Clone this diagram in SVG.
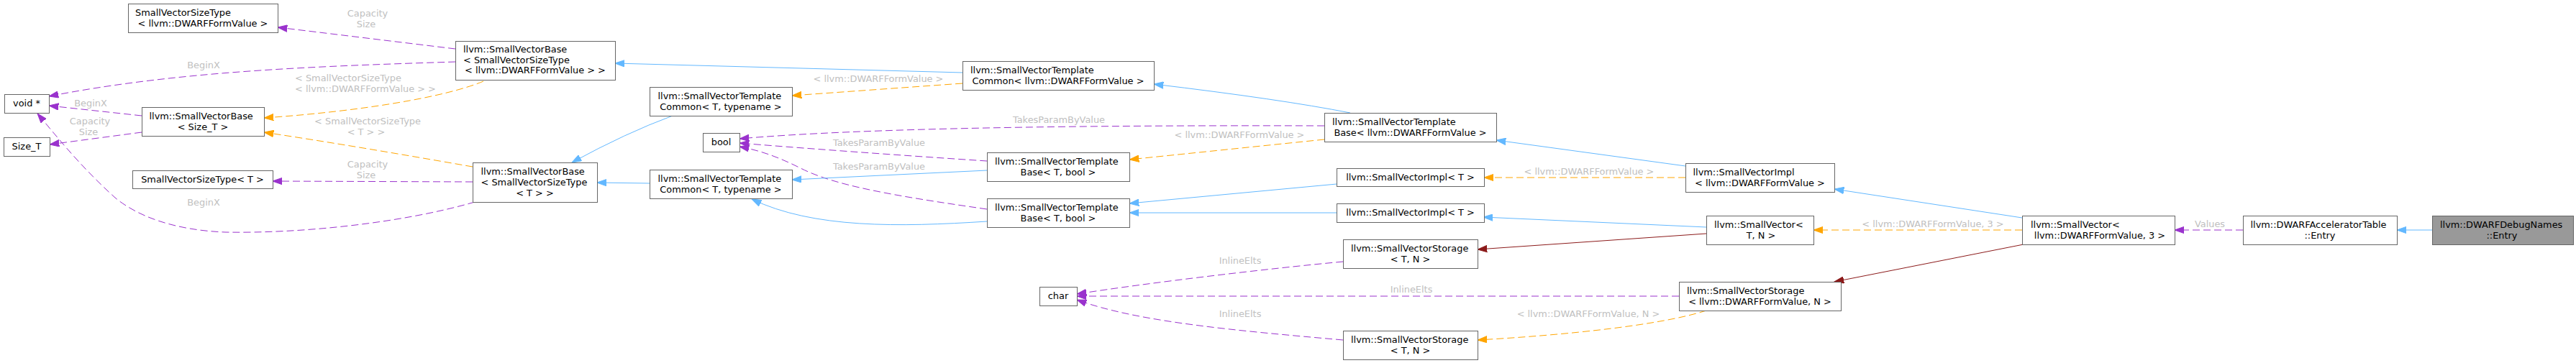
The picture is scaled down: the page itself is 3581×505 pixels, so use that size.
<svg xmlns="http://www.w3.org/2000/svg" width="3581" height="505" viewBox="0 0 3581 505">
<style>
.n rect{fill:#fff;stroke:#666;stroke-width:1}
.n.sel rect{fill:#999}
text{font-family:"DejaVu Sans","Liberation Sans",sans-serif;font-size:12.9px;fill:#000}
.m{text-anchor:middle}
.lbl{fill:#c0c0c0;font-size:12.9px}
.e{fill:none;stroke-width:1}
.b{stroke:#63b8ff}
.p{stroke:#9a32cd;stroke-dasharray:10,5}
.o{stroke:#ffa500;stroke-dasharray:10,5}
.r{stroke:#8b1a1a}
</style>
<defs>
<marker id="ab" markerUnits="userSpaceOnUse" markerWidth="14" markerHeight="10" viewBox="0 0 14 10" refX="13.3" refY="5" orient="auto"><path d="M0,0.3 L13.3,5 L0,9.7 Z" fill="#63b8ff" stroke="#63b8ff" stroke-width="1"/></marker>
<marker id="ap" markerUnits="userSpaceOnUse" markerWidth="14" markerHeight="10" viewBox="0 0 14 10" refX="13.3" refY="5" orient="auto"><path d="M0,0.3 L13.3,5 L0,9.7 Z" fill="#9a32cd" stroke="#9a32cd" stroke-width="1"/></marker>
<marker id="ao" markerUnits="userSpaceOnUse" markerWidth="14" markerHeight="10" viewBox="0 0 14 10" refX="13.3" refY="5" orient="auto"><path d="M0,0.3 L13.3,5 L0,9.7 Z" fill="#ffa500" stroke="#ffa500" stroke-width="1"/></marker>
<marker id="ar" markerUnits="userSpaceOnUse" markerWidth="14" markerHeight="10" viewBox="0 0 14 10" refX="13.3" refY="5" orient="auto"><path d="M0,0.3 L13.3,5 L0,9.7 Z" fill="#8b1a1a" stroke="#8b1a1a" stroke-width="1"/></marker>
</defs>
<rect width="3581" height="505" fill="#fff"/>
<g id="edges">
<path class="e b" d="M3381,320 L3332,320" marker-end="url(#ab)"/>
<path class="e p" d="M3118,320 L3023,320" marker-end="url(#ap)"/>
<text class="lbl m" x="3072" y="316">Values</text>
<path class="e b" d="M2811,303 L2550,263" marker-end="url(#ab)"/>
<path class="e o" d="M2811,320 L2521,320" marker-end="url(#ao)"/>
<text class="lbl m" x="2687" y="316">&lt; llvm::DWARFFormValue, 3 &gt;</text>
<path class="e r" d="M2813,340 L2550,392" marker-end="url(#ar)"/>
<path class="e b" d="M2343,231 L2080,195" marker-end="url(#ab)"/>
<path class="e o" d="M2343,247 L2063,247" marker-end="url(#ao)"/>
<text class="lbl m" x="2209" y="242.5">&lt; llvm::DWARFFormValue &gt;</text>
<path class="e b" d="M2372,316 L2062,302" marker-end="url(#ab)"/>
<path class="e r" d="M2372,325 L2054,347" marker-end="url(#ar)"/>
<path class="e p" d="M2334,412 L1497,412" marker-end="url(#ap)"/>
<text class="lbl m" x="1962" y="407">InlineElts</text>
<path class="e o" d="M2372,432 C2310,452 2180,466 2054,473" marker-end="url(#ao)"/>
<text class="lbl m" x="2208" y="441">&lt; llvm::DWARFFormValue, N &gt;</text>
<path class="e p" d="M1867,364 C1760,374 1600,393 1497,409" marker-end="url(#ap)"/>
<text class="lbl m" x="1724" y="367">InlineElts</text>
<path class="e p" d="M1867,473 C1720,460 1580,448 1497,417" marker-end="url(#ap)"/>
<text class="lbl m" x="1724" y="441">InlineElts</text>
<path class="e b" d="M1858,296 L1570,296" marker-end="url(#ab)"/>
<path class="e b" d="M1858,256 L1570,283" marker-end="url(#ab)"/>
<path class="e o" d="M1841,194 L1570,222" marker-end="url(#ao)"/>
<text class="lbl m" x="1723" y="192">&lt; llvm::DWARFFormValue &gt;</text>
<path class="e b" d="M1877,157 Q1780,138 1604,117" marker-end="url(#ab)"/>
<path class="e p" d="M1841,175 C1500,174 1200,178 1028,193" marker-end="url(#ap)"/>
<text class="lbl m" x="1472" y="171">TakesParamByValue</text>
<path class="e p" d="M1372,224 C1250,216 1100,205 1028,199" marker-end="url(#ap)"/>
<text class="lbl m" x="1222" y="203">TakesParamByValue</text>
<path class="e p" d="M1372,291 C1240,272 1160,258 1113,234 C1085,220 1060,210 1028,204" marker-end="url(#ap)"/>
<text class="lbl m" x="1222" y="236">TakesParamByValue</text>
<path class="e b" d="M1372,237 L1101,250" marker-end="url(#ab)"/>
<path class="e b" d="M1372,308 C1250,316 1130,318 1045,277" marker-end="url(#ab)"/>
<path class="e b" d="M1338,101 L855,88" marker-end="url(#ab)"/>
<path class="e o" d="M1338,116 L1101,133" marker-end="url(#ao)"/>
<text class="lbl m" x="1221" y="114">&lt; llvm::DWARFFormValue &gt;</text>
<path class="e b" d="M903,255 L830,254" marker-end="url(#ab)"/>
<path class="e b" d="M935,161 Q870,185 795,226" marker-end="url(#ab)"/>
<path class="e p" d="M633,68 L386,38" marker-end="url(#ap)"/>
<text class="lbl m" x="511" y="23">Capacity</text>
<text class="lbl m" x="509" y="37.5">Size</text>
<path class="e p" d="M633,86 C450,92 250,98 68,134" marker-end="url(#ap)"/>
<text class="lbl m" x="283" y="95">BeginX</text>
<path class="e o" d="M672,113 C620,135 500,155 367,164" marker-end="url(#ao)"/>
<text class="lbl" x="410" y="113">&lt; SmallVectorSizeType</text>
<text class="lbl m" x="508" y="128">&lt; llvm::DWARFFormValue &gt; &gt;</text>
<path class="e o" d="M657,232 C560,215 460,198 367,184" marker-end="url(#ao)"/>
<text class="lbl m" x="511" y="172.5">&lt; SmallVectorSizeType</text>
<text class="lbl m" x="509" y="188">&lt; T &gt; &gt;</text>
<path class="e p" d="M657,253 L379,252" marker-end="url(#ap)"/>
<text class="lbl m" x="511" y="233">Capacity</text>
<text class="lbl m" x="509" y="247.5">Size</text>
<path class="e p" d="M660,281 C560,310 420,325 313,323 C240,320 190,300 160,275 C110,230 75,185 52,158" marker-end="url(#ap)"/>
<text class="lbl m" x="283" y="285.5">BeginX</text>
<path class="e p" d="M197,161 L68,147" marker-end="url(#ap)"/>
<text class="lbl m" x="126" y="147.5">BeginX</text>
<path class="e p" d="M197,184 L69,201" marker-end="url(#ap)"/>
<text class="lbl m" x="125" y="172.5">Capacity</text>
<text class="lbl m" x="123" y="187.5">Size</text>
</g>
<g id="n1" class="n"><rect x="178.5" y="5.5" width="208" height="40"/><text x="188" y="21.5">SmallVectorSizeType</text><text class="m" x="282" y="36.5">&lt; llvm::DWARFFormValue &gt;</text></g>
<g id="n2" class="n"><rect x="6.5" y="131.5" width="62" height="26"/><text class="m" x="37" y="148">void *</text></g>
<g id="n3" class="n"><rect x="5.5" y="191.5" width="64" height="26"/><text class="m" x="37" y="208">Size_T</text></g>
<g id="n4" class="n"><rect x="197.5" y="149.5" width="170" height="40"/><text x="207.5" y="165.5">llvm::SmallVectorBase</text><text class="m" x="282" y="180.5">&lt; Size_T &gt;</text></g>
<g id="n5" class="n"><rect x="184.5" y="237.5" width="195" height="25"/><text class="m" x="281.5" y="253.5">SmallVectorSizeType&lt; T &gt;</text></g>
<g id="n6" class="n"><rect x="633.5" y="57.5" width="222" height="54"/><text x="644" y="73">llvm::SmallVectorBase</text><text x="644" y="87.5">&lt; SmallVectorSizeType</text><text class="m" x="744" y="102">&lt; llvm::DWARFFormValue &gt; &gt;</text></g>
<g id="n7" class="n"><rect x="657.5" y="226.5" width="173" height="55"/><text x="668.5" y="242.5">llvm::SmallVectorBase</text><text x="668.5" y="257.5">&lt; SmallVectorSizeType</text><text class="m" x="743.5" y="272.5">&lt; T &gt; &gt;</text></g>
<g id="n8" class="n"><rect x="903.5" y="121.5" width="198" height="40"/><text x="914.5" y="137.5">llvm::SmallVectorTemplate</text><text class="m" x="1002" y="152.5">Common&lt; T, typename &gt;</text></g>
<g id="n9" class="n"><rect x="977.5" y="185.5" width="51" height="26"/><text class="m" x="1002.5" y="202">bool</text></g>
<g id="n10" class="n"><rect x="903.5" y="236.5" width="198" height="40"/><text x="914.5" y="252.5">llvm::SmallVectorTemplate</text><text class="m" x="1002" y="267.5">Common&lt; T, typename &gt;</text></g>
<g id="n11" class="n"><rect x="1338.5" y="85.5" width="266" height="40"/><text x="1349" y="101.5">llvm::SmallVectorTemplate</text><text class="m" x="1471" y="116.5">Common&lt; llvm::DWARFFormValue &gt;</text></g>
<g id="n12" class="n"><rect x="1372.5" y="212.5" width="198" height="40"/><text x="1383" y="228.5">llvm::SmallVectorTemplate</text><text class="m" x="1471" y="243.5">Base&lt; T, bool &gt;</text></g>
<g id="n13" class="n"><rect x="1372.5" y="276.5" width="198" height="40"/><text x="1383" y="292.5">llvm::SmallVectorTemplate</text><text class="m" x="1471" y="307.5">Base&lt; T, bool &gt;</text></g>
<g id="n14" class="n"><rect x="1445.5" y="399.5" width="52" height="26"/><text class="m" x="1471" y="416">char</text></g>
<g id="n15" class="n"><rect x="1841.5" y="157.5" width="239" height="40"/><text x="1852" y="173.5">llvm::SmallVectorTemplate</text><text class="m" x="1960.5" y="188.5">Base&lt; llvm::DWARFFormValue &gt;</text></g>
<g id="n16" class="n"><rect x="1858.5" y="234.5" width="205" height="25"/><text class="m" x="1960.5" y="250.5">llvm::SmallVectorImpl&lt; T &gt;</text></g>
<g id="n17" class="n"><rect x="1858.5" y="283.5" width="205" height="26"/><text class="m" x="1960.5" y="300">llvm::SmallVectorImpl&lt; T &gt;</text></g>
<g id="n18" class="n"><rect x="1867.5" y="333.5" width="187" height="40"/><text x="1878" y="349.5">llvm::SmallVectorStorage</text><text class="m" x="1960.5" y="364.5">&lt; T, N &gt;</text></g>
<g id="n19" class="n"><rect x="1867.5" y="460.5" width="187" height="40"/><text x="1878" y="476.5">llvm::SmallVectorStorage</text><text class="m" x="1960.5" y="491.5">&lt; T, N &gt;</text></g>
<g id="n20" class="n"><rect x="2343.5" y="227.5" width="207" height="40"/><text x="2353.5" y="243.5">llvm::SmallVectorImpl</text><text class="m" x="2446.5" y="258.5">&lt; llvm::DWARFFormValue &gt;</text></g>
<g id="n21" class="n"><rect x="2372.5" y="300.5" width="149" height="40"/><text x="2383" y="316.5">llvm::SmallVector&lt;</text><text class="m" x="2448" y="331.5">T, N &gt;</text></g>
<g id="n22" class="n"><rect x="2334.5" y="392.5" width="225" height="40"/><text x="2345" y="408.5">llvm::SmallVectorStorage</text><text class="m" x="2446.5" y="423.5">&lt; llvm::DWARFFormValue, N &gt;</text></g>
<g id="n23" class="n"><rect x="2811.5" y="300.5" width="212" height="40"/><text x="2823" y="316.5">llvm::SmallVector&lt;</text><text class="m" x="2919" y="331.5">llvm::DWARFFormValue, 3 &gt;</text></g>
<g id="n24" class="n"><rect x="3118.5" y="300.5" width="214" height="40"/><text x="3128.5" y="316.5">llvm::DWARFAcceleratorTable</text><text class="m" x="3225" y="331.5">::Entry</text></g>
<g id="n25" class="n sel"><rect x="3381.5" y="300.5" width="196" height="40"/><text x="3392" y="316.5">llvm::DWARFDebugNames</text><text class="m" x="3478" y="331.5">::Entry</text></g>
</svg>
